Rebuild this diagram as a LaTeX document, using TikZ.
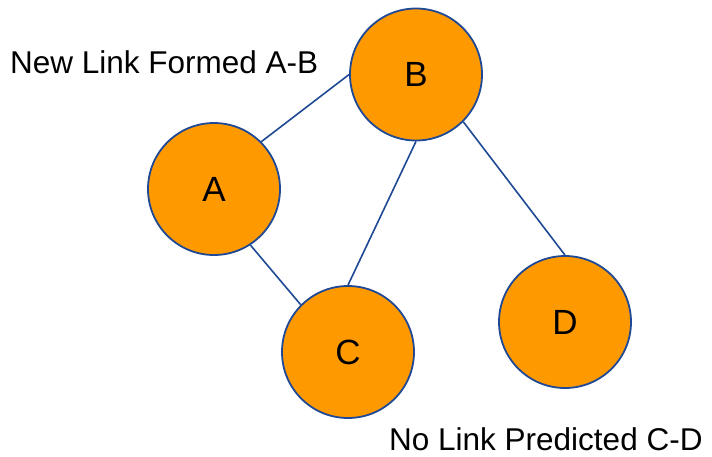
\documentclass[tikz,border=0pt]{standalone}
\usepackage{fontspec}
\setmainfont{Liberation Sans}
\definecolor{nodefill}{RGB}{255,153,0}
\definecolor{edgeblue}{RGB}{31,73,148}
\begin{document}
\begin{tikzpicture}[x=1pt,y=-1pt,
  vertex/.style={circle,draw=edgeblue,line width=1.8pt,fill=nodefill,
    minimum size=132pt,inner sep=0pt,font=\fontsize{35}{40}\selectfont},
  link/.style={draw=edgeblue,line width=1.6pt},
  caption/.style={anchor=base west,inner sep=0pt,text depth=0pt,
    font=\fontsize{31.5}{38}\selectfont}]
\useasboundingbox (0,0) rectangle (712,456);
% graph vertices
\node[vertex] (B) at (416,74.5) {B};
\node[vertex] (A) at (214,189) {A};
\node[vertex] (C) at (348,352) {C};
\node[vertex] (D) at (565,322) {D};
% edges between vertices
\draw[link] (B.180) -- (A.45);
\draw[link] (B.-90) -- (C.90);
\draw[link] (B.-45) -- (D.90);
\draw[link] (A.-57) -- (C.135);
% captions
\node[caption] (formed) at (10,73) {New Link Formed A-B};
\node[caption] (nolink) at (389,450.5) {No Link Predicted C-D};
\end{tikzpicture}
\end{document}
